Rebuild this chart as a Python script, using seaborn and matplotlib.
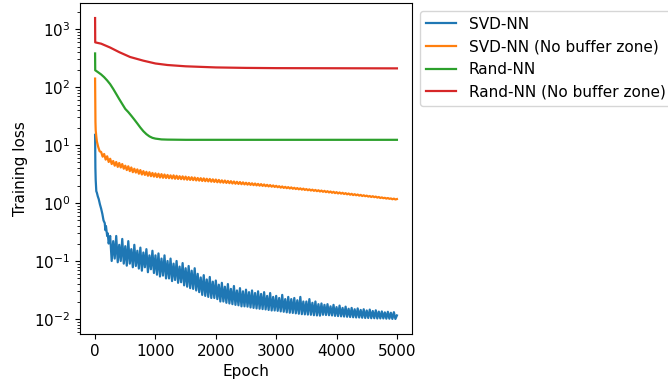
import numpy as np
import pandas as pd
import matplotlib
matplotlib.use("Agg")
import matplotlib.pyplot as plt
import seaborn as sns

plt.rcParams["font.size"] = 11

# ---- values ----
# SVD-NN (blue): steep early drop, then a noisy band
svd_early_epoch = [0, 5, 10, 20, 30, 45, 60, 80, 100, 120, 140, 160, 170, 180, 200, 210, 225]
svd_early_loss = [15, 4, 2.5, 1.6, 1.5, 1.3, 1.17, 0.95, 0.8, 0.65, 0.5, 0.45, 0.34, 0.4, 0.27, 0.3, 0.2]
svd_late_epoch = np.arange(250, 5001, 25)
svd_late_loss = [
    0.27, 0.10, 0.22, 0.11, 0.27, 0.095, 0.19, 0.10, 0.24, 0.09,
    0.18, 0.083, 0.22, 0.09, 0.16, 0.078, 0.19, 0.082, 0.15, 0.074,
    0.17, 0.068, 0.14, 0.078, 0.16, 0.064, 0.125, 0.072, 0.15, 0.062,
    0.125, 0.058, 0.135, 0.054, 0.11, 0.056, 0.125, 0.05, 0.10, 0.05,
    0.11, 0.045, 0.09, 0.047, 0.10, 0.042, 0.08, 0.043, 0.092, 0.038,
    0.075, 0.036, 0.082, 0.034, 0.068, 0.033, 0.075, 0.031, 0.06, 0.029,
    0.052, 0.026, 0.057, 0.025, 0.048, 0.024, 0.053, 0.023, 0.044, 0.023,
    0.046, 0.022, 0.039, 0.02, 0.042, 0.02, 0.036, 0.019, 0.04, 0.0185,
    0.033, 0.018, 0.037, 0.0175, 0.031, 0.0172, 0.034, 0.0165, 0.03, 0.0165,
    0.032, 0.0163, 0.029, 0.0158, 0.031, 0.0155, 0.028, 0.0152, 0.03, 0.015,
    0.027, 0.0148, 0.029, 0.0146, 0.025, 0.0143, 0.028, 0.014, 0.024, 0.014,
    0.025, 0.0138, 0.023, 0.0135, 0.026, 0.0133, 0.022, 0.013, 0.024, 0.0128,
    0.022, 0.0127, 0.023, 0.0125, 0.021, 0.0123, 0.024, 0.0121, 0.02, 0.012,
    0.02, 0.0119, 0.022, 0.0118, 0.019, 0.0116, 0.02, 0.0115, 0.018, 0.0114,
    0.0185, 0.0118, 0.0175, 0.0117, 0.018, 0.0116, 0.0165, 0.0115, 0.0175, 0.0113,
    0.016, 0.0112, 0.017, 0.0111, 0.0155, 0.011, 0.0163, 0.0109, 0.015, 0.0108,
    0.0155, 0.0107, 0.0147, 0.0106, 0.0152, 0.0106, 0.0143, 0.0105, 0.0147, 0.0104,
    0.014, 0.0104, 0.0145, 0.0103, 0.0137, 0.0103, 0.0141, 0.0102, 0.0134, 0.0102,
    0.0135, 0.0102, 0.013, 0.0101, 0.0133, 0.0101, 0.0128, 0.01, 0.0131, 0.01,
    0.0115,
]

# SVD-NN, no buffer zone (orange)
svdnb_early_epoch = [0, 3, 6, 10, 20, 30, 50, 75]
svdnb_early_loss = [140, 45, 25, 18, 14, 11.5, 9.4, 7.8]
svdnb_late_epoch = np.arange(100, 5001, 25)
svdnb_late_loss = [
    7.6, 6.3, 7.0, 5.6, 6.4, 5.1, 5.8, 4.7, 5.3, 4.4,
    5.1, 4.2, 4.9, 4.1, 4.7, 3.9, 4.4, 3.7, 4.3, 3.55,
    4.1, 3.4, 3.9, 3.35, 3.8, 3.2, 3.7, 3.1, 3.55, 3.05,
    3.45, 2.95, 3.4, 2.9, 3.3, 2.85, 3.25, 2.8, 3.2, 2.75,
    3.15, 2.72, 3.1, 2.7, 3.05, 2.68, 3.0, 2.65, 3.0, 2.62,
    2.95, 2.6, 2.9, 2.58, 2.88, 2.55, 2.85, 2.52, 2.8, 2.5,
    2.78, 2.48, 2.75, 2.45, 2.7, 2.43, 2.68, 2.4, 2.66, 2.38,
    2.62, 2.36, 2.6, 2.33, 2.56, 2.31, 2.54, 2.28, 2.5, 2.26,
    2.46, 2.24, 2.44, 2.22, 2.4, 2.2, 2.38, 2.17, 2.35, 2.15,
    2.32, 2.13, 2.3, 2.11, 2.27, 2.09, 2.24, 2.07, 2.22, 2.05,
    2.19, 2.03, 2.17, 2.01, 2.14, 1.99, 2.12, 1.97, 2.09, 1.95,
    2.06, 1.93, 2.04, 1.91, 2.01, 1.89, 1.98, 1.87, 1.95, 1.84,
    1.93, 1.82, 1.9, 1.8, 1.88, 1.78, 1.86, 1.76, 1.83, 1.74,
    1.81, 1.72, 1.79, 1.7, 1.77, 1.68, 1.74, 1.66, 1.72, 1.64,
    1.7, 1.62, 1.68, 1.6, 1.66, 1.58, 1.64, 1.56, 1.62, 1.54,
    1.6, 1.52, 1.58, 1.5, 1.56, 1.48, 1.54, 1.46, 1.52, 1.45,
    1.5, 1.43, 1.48, 1.41, 1.46, 1.39, 1.44, 1.37, 1.42, 1.36,
    1.4, 1.34, 1.38, 1.32, 1.36, 1.31, 1.34, 1.29, 1.32, 1.27,
    1.31, 1.26, 1.29, 1.24, 1.27, 1.22, 1.25, 1.21, 1.23, 1.19,
    1.22, 1.18, 1.2, 1.16, 1.19, 1.15, 1.17,
]

# Rand-NN (green): smooth
rand_epoch = [0, 2, 50, 100, 150, 200, 250, 300, 350, 400, 450, 500, 550, 600, 650,
              700, 750, 800, 850, 900, 950, 1000, 1100, 1200, 1500, 5000]
rand_loss = [380, 195, 180, 165, 148, 130, 112, 93, 76, 62, 51, 42, 37, 32, 27.5,
             23.5, 20, 17.3, 15.4, 14.1, 13.3, 12.9, 12.5, 12.4, 12.3, 12.3]

# Rand-NN, no buffer zone (red): smooth
randnb_epoch = [0, 2, 100, 250, 400, 580, 800, 1000, 1200, 1500, 2000, 2500, 3000, 5000]
randnb_loss = [1550, 590, 560, 480, 400, 330, 285, 255, 240, 228, 218, 214, 212, 210]

labels = ["SVD-NN", "SVD-NN (No buffer zone)", "Rand-NN", "Rand-NN (No buffer zone)"]
colors = ["#1f77b4", "#ff7f0e", "#2ca02c", "#d62728"]

series = [
    (list(svd_early_epoch) + list(svd_late_epoch), svd_early_loss + svd_late_loss),
    (list(svdnb_early_epoch) + list(svdnb_late_epoch), svdnb_early_loss + svdnb_late_loss),
    (rand_epoch, rand_loss),
    (randnb_epoch, randnb_loss),
]

fig = plt.figure(figsize=(6.68, 3.83), dpi=100)
ax = fig.add_axes([80 / 668, 49 / 383, 332 / 668, 331 / 383])

for (ep, loss), lab, col in zip(series, labels, colors):
    df = pd.DataFrame({"Epoch": ep, "loss": loss})
    sns.lineplot(data=df, x="Epoch", y="loss", ax=ax, color=col, label=lab,
                 estimator=None, sort=False, linewidth=1.6)

ax.set_yscale("log")
ax.set_xlabel("Epoch")
ax.set_ylabel("Training loss")
ax.set_xticks([0, 1000, 2000, 3000, 4000, 5000])
ax.legend(loc="upper left", bbox_to_anchor=(1.0, 1.0))

fig.savefig("out.png", dpi=100)
